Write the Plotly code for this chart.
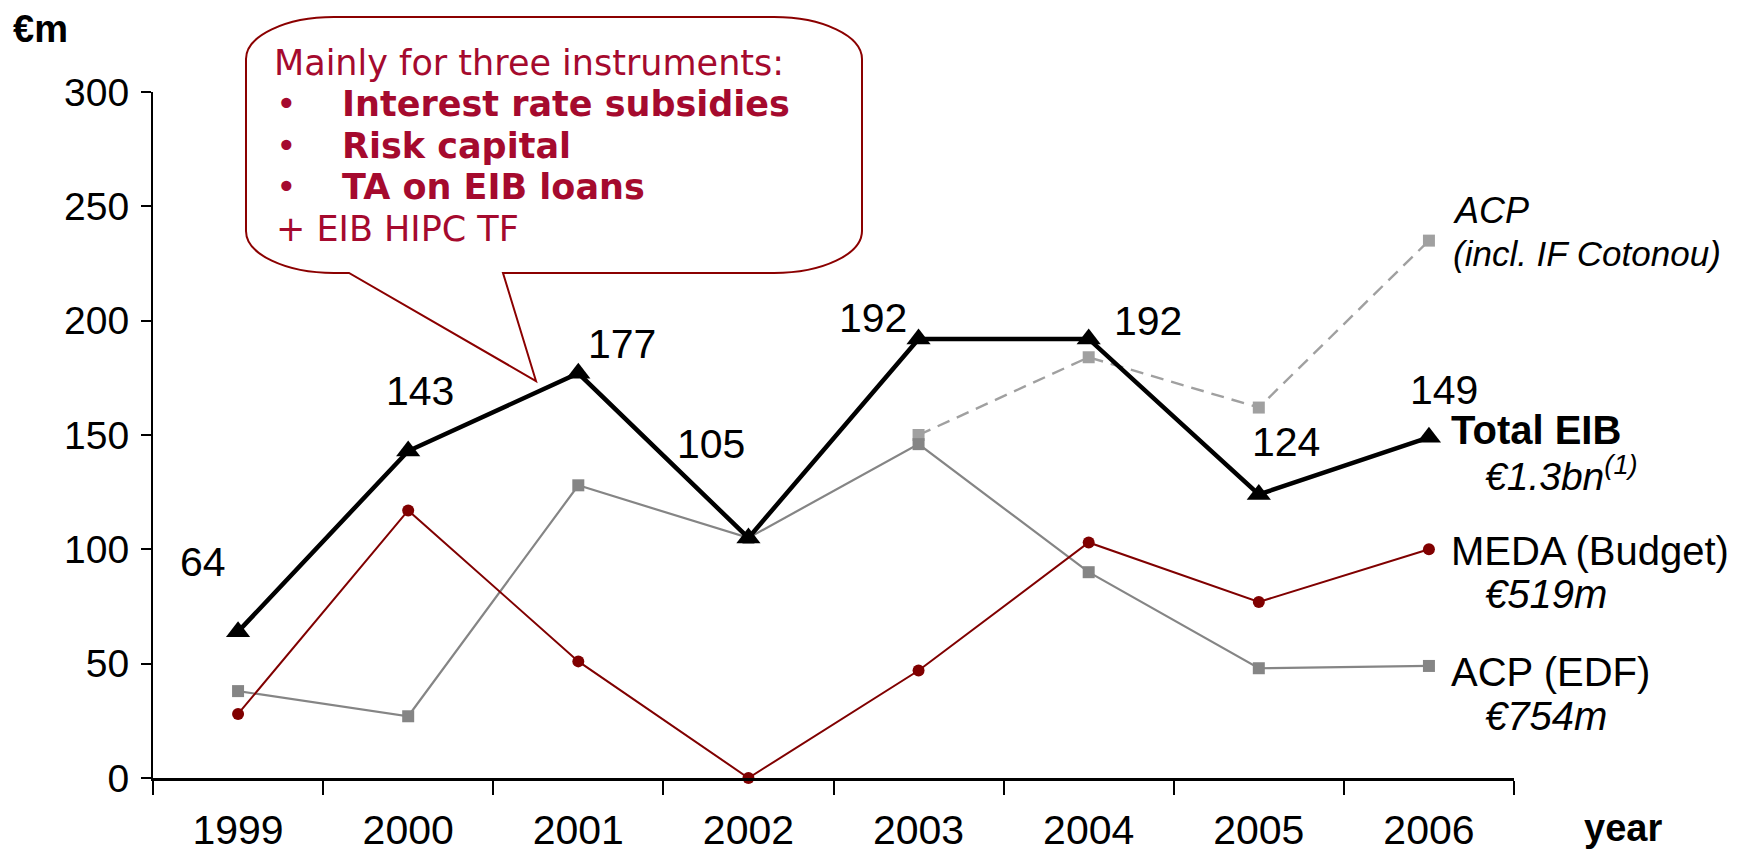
import plotly.graph_objects as go

# ---------------- data ----------------
years = ["1999", "2000", "2001", "2002", "2003", "2004", "2005", "2006"]
total_eib = [64, 143, 177, 105, 192, 192, 124, 149]
meda_budget = [28, 117, 51, 0, 47, 103, 77, 100]
acp_edf = [38, 27, 128, 105, 146, 90, 48, 49]
acp_if_years = ["2003", "2004", "2005", "2006"]
acp_incl_if = [150, 184, 162, 235]
y_tick_values = [0, 50, 100, 150, 200, 250, 300]
total_labels = [str(v) for v in total_eib]

# ---------------- styling / layout constants ----------------
W, H = 1739, 860
ML, MR, MT, MB = 153, 225, 92, 82
PW, PH = W - ML - MR, H - MT - MB
FONT = "Liberation Sans, Arial, sans-serif"
CALLOUT_FONT = "DejaVu Sans, Verdana, sans-serif"
RED_TXT = "#A50A2E"
RED_LINE = "#8B0000"

# pixel offsets for the Total EIB value labels
label_shifts = [(-35, 70), (12, 60), (44, 29), (-37, 94),
                (-46, 21), (59, 18), (27, 52), (15, 47)]


def px(x):
    return (x - ML) / PW


def py(y):
    return (H - MB - y) / PH


fig = go.Figure()

fig.add_trace(go.Scatter(
    x=acp_if_years, y=acp_incl_if, mode="lines+markers",
    line=dict(color="#A0A0A0", width=2.4, dash="13px,8px"),
    marker=dict(symbol="square", size=12, color="#A0A0A0"),
    cliponaxis=False, hoverinfo="skip"))
fig.add_trace(go.Scatter(
    x=years, y=acp_edf, mode="lines+markers",
    line=dict(color="#858585", width=2.2),
    marker=dict(symbol="square", size=12, color="#858585"),
    cliponaxis=False, hoverinfo="skip"))
fig.add_trace(go.Scatter(
    x=years, y=meda_budget, mode="lines+markers",
    line=dict(color="#800000", width=2),
    marker=dict(symbol="circle", size=12, color="#800000"),
    cliponaxis=False, hoverinfo="skip"))
fig.add_trace(go.Scatter(
    x=years, y=total_eib, mode="lines+markers",
    line=dict(color="black", width=4.5),
    marker=dict(symbol="triangle-up", size=21, color="black"),
    cliponaxis=False, hoverinfo="skip"))

annotations = []
for i, (v, lab, (dx, dy)) in enumerate(zip(total_eib, total_labels, label_shifts)):
    annotations.append(dict(x=i, y=v, xref="x", yref="y", text=lab,
                            showarrow=False, xshift=dx, yshift=dy,
                            xanchor="center", yanchor="middle",
                            font=dict(family=FONT, size=41, color="black")))


def txt(text, x, y, size, anchor="left", color="black", family=FONT):
    annotations.append(dict(x=px(x), y=py(y), xref="paper", yref="paper",
                            text=text, showarrow=False, xanchor=anchor,
                            yanchor="middle",
                            font=dict(family=family, size=size, color=color)))


# axis captions
txt("<b>€m</b>", 11, 29, 38)
txt("<b>year</b>", 1582, 828, 38)

# right-hand series labels
txt("<i>ACP</i>", 1451, 210, 36)
txt("<i>(incl. IF Cotonou)</i>", 1451, 253, 35)
txt("<b>Total EIB</b>", 1449, 430, 40)
txt("<i>€1.3bn<sup>(1)</sup></i>", 1483, 474, 39)
txt("MEDA (Budget)", 1449, 551, 40)
txt("<i>€519m</i>", 1483, 594, 40)
txt("ACP (EDF)", 1449, 672, 40)
txt("<i>€754m</i>", 1483, 716, 40)

# callout text
txt("Mainly for three instruments:", 272, 63, 35, color=RED_TXT, family=CALLOUT_FONT)
for line, yy in [("Interest rate subsidies", 104),
                 ("Risk capital", 146),
                 ("TA on EIB loans", 187)]:
    txt("•", 274, yy, 35, color=RED_TXT, family=CALLOUT_FONT)
    txt("<b>" + line + "</b>", 340, yy, 35, color=RED_TXT, family=CALLOUT_FONT)
txt("+ EIB HIPC TF", 274, 229, 35, color=RED_TXT, family=CALLOUT_FONT)

# callout bubble path
L, R, T, B = 246, 862, 17, 273
rx, ry = 88, 42
k = 0.4477
tail_l, tail_r, tip = 349, 503, (536, 381)


def P(x, y):
    return f"{px(x):.5f},{py(y):.5f}"


path = (
    f"M {P(L + rx, T)} L {P(R - rx, T)} "
    f"C {P(R - rx * k, T)} {P(R, T + ry * k)} {P(R, T + ry)} "
    f"L {P(R, B - ry)} "
    f"C {P(R, B - ry * k)} {P(R - rx * k, B)} {P(R - rx, B)} "
    f"L {P(tail_r, B)} L {P(*tip)} L {P(tail_l, B)} "
    f"L {P(L + rx, B)} "
    f"C {P(L + rx * k, B)} {P(L, B - ry * k)} {P(L, B - ry)} "
    f"L {P(L, T + ry)} "
    f"C {P(L, T + ry * k)} {P(L + rx * k, T)} {P(L + rx, T)} Z"
)

fig.update_layout(
    width=W, height=H,
    margin=dict(l=ML, r=MR, t=MT, b=MB, autoexpand=False),
    plot_bgcolor="white", paper_bgcolor="white",
    showlegend=False,
    annotations=annotations,
    shapes=[dict(type="path", path=path, xref="paper", yref="paper",
                 line=dict(color=RED_LINE, width=2), fillcolor="white",
                 layer="above")],
    xaxis=dict(type="category", categoryorder="array", categoryarray=years,
               range=[-0.5, 7.5], showgrid=False, zeroline=False,
               showline=True, linecolor="black", linewidth=2.5,
               ticks="outside", tickson="boundaries", ticklen=14,
               tickwidth=2, tickcolor="black",
               tickfont=dict(family=FONT, size=41, color="black"),
               ticklabelstandoff=14),
    yaxis=dict(range=[0, 300], tickvals=y_tick_values,
               showgrid=False, zeroline=False,
               showline=True, linecolor="black", linewidth=2,
               ticks="outside", ticklen=10, tickwidth=2, tickcolor="black",
               tickfont=dict(family=FONT, size=39, color="black"),
               ticklabelstandoff=4),
)

fig.write_html("out.html")
